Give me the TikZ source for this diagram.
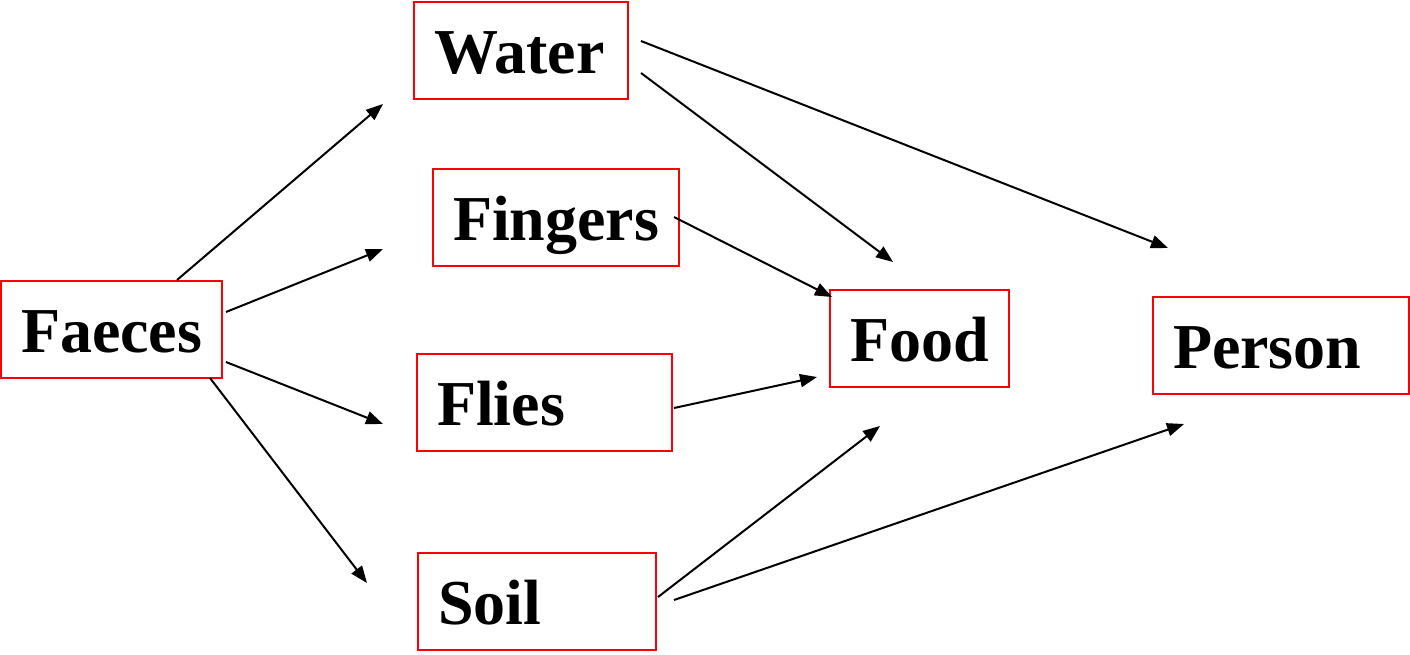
\documentclass[tikz,border=0pt]{standalone}
\usepackage{fontspec}
\setmainfont{Liberation Serif}
\usetikzlibrary{arrows.meta}
\begin{document}
\begin{tikzpicture}[x=1pt,y=-1pt,
  stage/.style={draw=red, line width=1.5pt, anchor=north west, outer sep=0pt,
    minimum height=97pt, inner xsep=20pt, inner ysep=0pt,
    text height=71pt, text depth=26pt, align=left,
    font=\fontsize{64}{70}\selectfont\bfseries},
  link/.style={line width=2pt, -{Triangle[length=17pt,width=13pt]}}]
\useasboundingbox (0,0) rectangle (1410,654);

% stages of the transmission route
\node[stage, text width=174pt] (water)   at (414,2)   {Water};
\node[stage, text width=206pt] (fingers) at (433,169) {Fingers};
\node[stage, text width=181pt] (faeces)  at (1,281)   {Faeces};
\node[stage, text width=139pt] (food)    at (830,290) {Food};
\node[stage, text width=215pt] (flies)   at (417,354) {Flies};
\node[stage, text width=198pt] (soil)    at (418,553) {Soil};
\node[stage, text width=216pt] (person)  at (1153,297) {Person};

% free ends of the arrows
\coordinate (faeces-a) at (177,280);  \coordinate (water-in)   at (383,104);
\coordinate (faeces-b) at (226,312);  \coordinate (fingers-in) at (383,249);
\coordinate (faeces-c) at (226,362);  \coordinate (flies-in)   at (383,424);
\coordinate (faeces-d) at (210,378);  \coordinate (soil-in)    at (367,583);
\coordinate (water-a)  at (641,73);   \coordinate (food-in-a)  at (893,262);
\coordinate (water-b)  at (641,41);   \coordinate (person-in-a) at (1168,248);
\coordinate (fingers-a) at (674,217); \coordinate (food-in-b)  at (832,297);
\coordinate (flies-a)  at (674,408);  \coordinate (food-in-c)  at (817,377);
\coordinate (soil-a)   at (658,597);  \coordinate (food-in-d)  at (880,426);
\coordinate (soil-b)   at (674,600);  \coordinate (person-in-b) at (1184,424);

\draw[link] (faeces-a) -- (water-in);
\draw[link] (faeces-b) -- (fingers-in);
\draw[link] (faeces-c) -- (flies-in);
\draw[link] (faeces-d) -- (soil-in);
\draw[link] (water-a) -- (food-in-a);
\draw[link] (water-b) -- (person-in-a);
\draw[link] (fingers-a) -- (food-in-b);
\draw[link] (flies-a) -- (food-in-c);
\draw[link] (soil-a) -- (food-in-d);
\draw[link] (soil-b) -- (person-in-b);
\end{tikzpicture}
\end{document}
